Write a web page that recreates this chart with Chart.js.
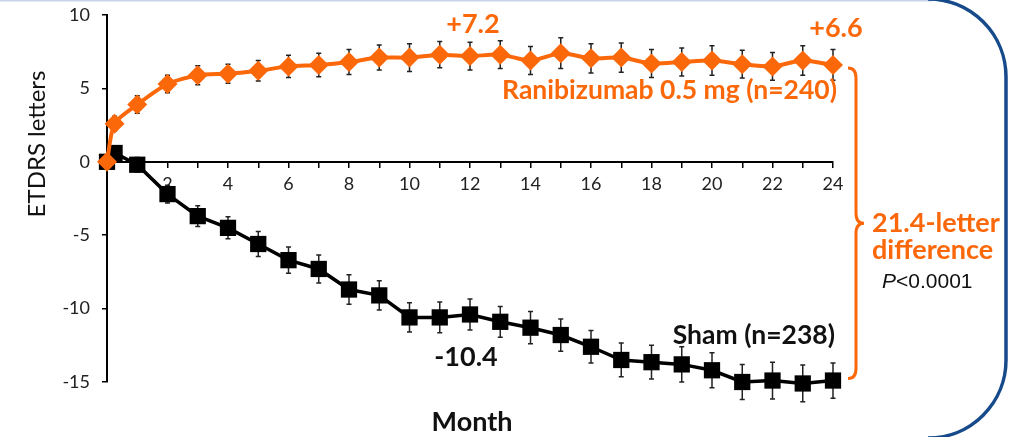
<!DOCTYPE html>
<html>
<head>
<meta charset="utf-8">
<script src="https://cdn.jsdelivr.net/npm/chart.js@4.4.1/dist/chart.umd.min.js"></script>
<style>
  html, body { margin: 0; padding: 0; background: #fff; }
  #wrap { position: relative; width: 1021px; height: 437px; }
</style>
</head>
<body>
<div id="wrap"><canvas id="chartBCVA" width="1021" height="437"></canvas></div>
<script>
// mean change in BCVA (ETDRS letters)
const months = [0, 0.25, 1, 2, 3, 4, 5, 6, 7, 8, 9, 10, 11, 12, 13, 14, 15, 16, 17, 18, 19, 20, 21, 22, 23, 24];
const ranibizumab = [0, 2.6, 3.9, 5.3, 5.9, 6.0, 6.2, 6.5, 6.6, 6.8, 7.1, 7.1, 7.3, 7.2, 7.3, 6.9, 7.4, 7.05, 7.1, 6.7, 6.8, 6.9, 6.65, 6.5, 6.9, 6.6];
const ranibizumabErr = [0, 0.5, 0.6, 0.6, 0.65, 0.65, 0.7, 0.75, 0.8, 0.85, 0.85, 0.95, 0.9, 0.95, 0.95, 0.95, 1.05, 1.0, 1.0, 0.95, 0.95, 1.0, 0.95, 0.95, 1.0, 1.05];
const sham = [0, 0.6, -0.2, -2.2, -3.7, -4.5, -5.6, -6.7, -7.3, -8.7, -9.1, -10.6, -10.6, -10.4, -10.9, -11.3, -11.8, -12.6, -13.5, -13.65, -13.8, -14.2, -15.0, -14.9, -15.1, -14.9];
const shamErr = [0, 0.4, 0.5, 0.6, 0.7, 0.75, 0.85, 0.9, 0.95, 1.0, 1.0, 1.0, 1.05, 1.05, 1.05, 1.1, 1.1, 1.1, 1.15, 1.15, 1.2, 1.2, 1.2, 1.25, 1.25, 1.2];
const yTicks = [-15, -10, -5, 0, 5, 10];

const ORANGE = "#fb680a";
const TICK_FONT = { family: "Lato", size: 18 };

const toPoints = (vals) => vals.map((v, i) => ({ x: months[i], y: v }));

// error bars, behind the markers
const errorBars = {
  id: "errorBars",
  beforeDatasetsDraw(chart) {
    const { ctx } = chart;
    const xs = chart.scales.x;
    const ys = chart.scales.y;
    const sets = [[ranibizumab, ranibizumabErr], [sham, shamErr]];
    ctx.save();
    ctx.strokeStyle = "#222";
    ctx.lineWidth = 1.5;
    sets.forEach(([vals, errs]) => {
      vals.forEach((v, i) => {
        if (!errs[i]) return;
        const px = xs.getPixelForValue(months[i]);
        const top = ys.getPixelForValue(v + errs[i]);
        const bot = ys.getPixelForValue(v - errs[i]);
        ctx.beginPath();
        ctx.moveTo(px, top);
        ctx.lineTo(px, bot);
        ctx.moveTo(px - 2.5, top);
        ctx.lineTo(px + 2.5, top);
        ctx.moveTo(px - 2.5, bot);
        ctx.lineTo(px + 2.5, bot);
        ctx.stroke();
      });
    });
    ctx.restore();
  },
};

// frame, labels, brace
const overlay = {
  id: "overlay",
  beforeDraw(chart) {
    const { ctx } = chart;
    ctx.save();
    ctx.strokeStyle = "#c5d5e9";
    ctx.lineWidth = 2;
    ctx.beginPath();
    ctx.moveTo(0, 0.5);
    ctx.lineTo(932, 0.5);
    ctx.stroke();
    const r = 78, right = 1006, top = -1, bottom = 438;
    ctx.strokeStyle = "#174a8b";
    ctx.lineWidth = 3.5;
    ctx.beginPath();
    ctx.moveTo(right - r, top);
    ctx.arcTo(right, top, right, top + r, r);
    ctx.lineTo(right, bottom - r);
    ctx.arcTo(right, bottom, right - r, bottom, r);
    ctx.stroke();
    ctx.restore();
  },
  afterDraw(chart) {
    const { ctx } = chart;
    const xs = chart.scales.x;
    const ys = chart.scales.y;
    const last = months.length - 1;
    const i12 = months.indexOf(12);
    const x24 = xs.getPixelForValue(24);
    ctx.save();
    ctx.textBaseline = "middle";

    ctx.fillStyle = ORANGE;
    ctx.font = "bold 27px Lato";
    ctx.textAlign = "center";
    ctx.fillText("+7.2", xs.getPixelForValue(12) + 3, ys.getPixelForValue(ranibizumab[i12]) - 32);
    ctx.fillText("+6.6", x24 + 3, ys.getPixelForValue(ranibizumab[last]) - 37);
    ctx.textAlign = "right";
    ctx.font = "bold 26.5px Lato";
    ctx.fillText("Ranibizumab 0.5 mg (n=240)", x24 + 4, 90);

    ctx.fillStyle = "#111";
    ctx.fillText("Sham (n=238)", x24 + 2, 335);
    ctx.textAlign = "center";
    ctx.font = "bold 27px Lato";
    ctx.fillText("-10.4", xs.getPixelForValue(12) - 4, ys.getPixelForValue(sham[i12]) + 43);
    ctx.fillText("Month", 472, 422);

    // brace spanning the two 24-month values
    const bx = x24 + 23;
    const yTop = ys.getPixelForValue(ranibizumab[last]) + 3;
    const yBot = ys.getPixelForValue(sham[last]) - 2;
    const yMid = (yTop + yBot) / 2;
    ctx.strokeStyle = ORANGE;
    ctx.lineWidth = 3;
    ctx.beginPath();
    ctx.moveTo(bx - 8, yTop);
    ctx.quadraticCurveTo(bx, yTop, bx, yTop + 10);
    ctx.lineTo(bx, yMid - 10);
    ctx.quadraticCurveTo(bx, yMid, bx + 8, yMid);
    ctx.quadraticCurveTo(bx, yMid, bx, yMid + 10);
    ctx.lineTo(bx, yBot - 10);
    ctx.quadraticCurveTo(bx, yBot, bx - 8, yBot);
    ctx.stroke();

    ctx.fillStyle = ORANGE;
    ctx.textAlign = "left";
    ctx.fillText("21.4-letter", 872, 223);
    ctx.fillText("difference", 872, 250);

    ctx.fillStyle = "#111";
    ctx.font = "italic 21px 'Liberation Sans'";
    const pW = ctx.measureText("P").width;
    ctx.fillText("P", 882, 282);
    ctx.font = "21px 'Liberation Sans'";
    ctx.fillText("<0.0001", 882 + pW, 282);

    ctx.translate(37, 144);
    ctx.rotate(-Math.PI / 2);
    ctx.textAlign = "center";
    ctx.font = "24px Lato";
    ctx.fillText("ETDRS letters", 0, 0);
    ctx.restore();
  },
};

const noPad = (s) => {
  s.paddingTop = 0;
  s.paddingBottom = 0;
  s.paddingLeft = 0;
  s.paddingRight = 0;
};

const ctx = document.getElementById("chartBCVA").getContext("2d");
const myChart = new Chart(ctx, {
  type: "line",
  data: {
    datasets: [
      {
        label: "Ranibizumab 0.5 mg (n=240)",
        data: toPoints(ranibizumab),
        borderColor: ORANGE,
        backgroundColor: ORANGE,
        borderWidth: 4,
        pointStyle: "rectRot",
        pointRadius: 10,
        pointBorderWidth: 0,
        tension: 0.25,
        clip: false,
      },
      {
        label: "Sham (n=238)",
        data: toPoints(sham),
        borderColor: "#000",
        backgroundColor: "#000",
        borderWidth: 3.5,
        pointStyle: "rect",
        pointRadius: 11.5,
        pointBorderWidth: 0,
        tension: 0,
        clip: false,
      },
    ],
  },
  options: {
    responsive: false,
    animation: false,
    events: [],
    layout: { padding: { left: 0, right: 188, top: 15, bottom: 55 } },
    plugins: {
      legend: { display: false },
      tooltip: { enabled: false },
    },
    scales: {
      x: {
        type: "linear",
        min: 0,
        max: 24,
        position: { y: 0 },
        afterFit: (s) => { s.height = 0; noPad(s); },
        ticks: {
          stepSize: 1,
          autoSkip: false,
          maxRotation: 0,
          padding: 7,
          font: TICK_FONT,
          color: "#222",
          callback: (v) => (v > 0 && v % 2 === 0 ? v : ""),
        },
        grid: { drawOnChartArea: false, tickLength: 5, color: "#000", lineWidth: 1.5 },
        border: { color: "#000", width: 2 },
      },
      y: {
        min: -15,
        max: 10,
        afterBuildTicks: (s) => { s.ticks = yTicks.map((v) => ({ value: v })); },
        afterFit: (s) => { s.width = 107; noPad(s); },
        ticks: { padding: 12, font: TICK_FONT, color: "#222" },
        grid: { drawOnChartArea: false, tickLength: 5, color: "#000", lineWidth: 1.5 },
        border: { color: "#000", width: 2 },
      },
    },
  },
  plugins: [errorBars, overlay],
});
</script>
</body>
</html>
